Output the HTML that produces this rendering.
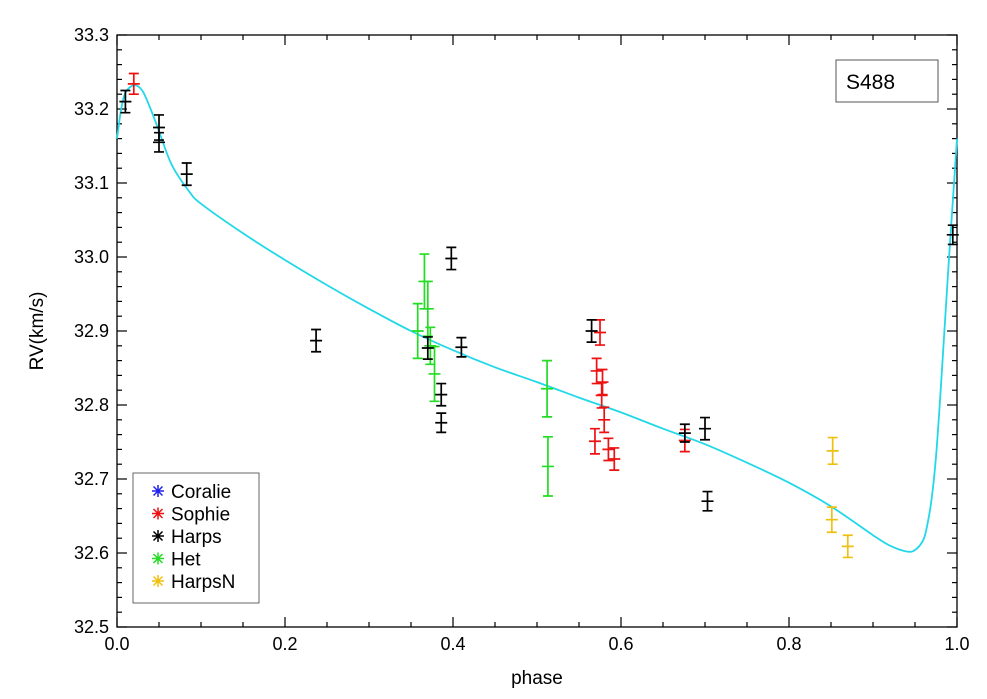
<!DOCTYPE html>
<html><head><meta charset="utf-8"><style>
html,body{margin:0;padding:0;background:#fff;}
svg{display:block;font-family:"Liberation Sans",sans-serif;}
</style></head><body>
<svg id="c" width="987" height="699" viewBox="0 0 987 699">
</svg>
<script>
const xTicks=[0.0,0.2,0.4,0.6,0.8,1.0];
const xTickLabels=["0.0","0.2","0.4","0.6","0.8","1.0"];
const yTicks=[32.5,32.6,32.7,32.8,32.9,33.0,33.1,33.2,33.3];
const yTickLabels=["32.5","32.6","32.7","32.8","32.9","33.0","33.1","33.2","33.3"];
const harpsPhase=[0.01,0.05,0.05,0.083,0.237,0.370,0.386,0.386,0.398,0.410,0.565,0.676,0.700,0.703,0.995];
const harpsRV=[33.21,33.175,33.155,33.112,32.887,32.877,32.814,32.776,32.998,32.878,32.90,32.762,32.768,32.670,33.03];
const harpsErr=[0.015,0.017,0.013,0.015,0.015,0.015,0.015,0.013,0.015,0.013,0.015,0.012,0.015,0.013,0.013];
const sophiePhase=[0.020,0.575,0.571,0.578,0.577,0.580,0.569,0.585,0.592,0.676];
const sophieRV=[33.234,32.898,32.846,32.831,32.813,32.78,32.751,32.74,32.727,32.752];
const sophieErr=[0.014,0.017,0.017,0.017,0.017,0.017,0.017,0.015,0.015,0.015];
const hetPhase=[0.358,0.366,0.370,0.373,0.378,0.512,0.513];
const hetRV=[32.90,32.967,32.930,32.88,32.842,32.822,32.717];
const hetErr=[0.037,0.037,0.037,0.025,0.037,0.038,0.04];
const harpsnPhase=[0.852,0.851,0.870];
const harpsnRV=[32.738,32.645,32.609];
const harpsnErr=[0.018,0.017,0.015];
const modelPhase=[0,0.005,0.01,0.02,0.03,0.04,0.05,0.065,0.085,0.1,0.15,0.2,0.25,0.3,0.35,0.4,0.45,0.5,0.55,0.6,0.65,0.7,0.75,0.8,0.85,0.9,0.92,0.94,0.95,0.96,0.965,0.97,0.975,0.98,0.985,0.99,0.995,1.0];
const modelRV=[33.16,33.2,33.222,33.232,33.225,33.2,33.17,33.125,33.09,33.072,33.032,32.996,32.962,32.93,32.9,32.874,32.851,32.831,32.81,32.79,32.768,32.747,32.722,32.695,32.663,32.624,32.610,32.602,32.604,32.618,32.64,32.675,32.73,32.81,32.9,32.99,33.075,33.16];

const NS="http://www.w3.org/2000/svg";
const svg=document.getElementById('c');
const L=117,R=957,T=35,B=627;
const X=p=>L+p*(R-L);
const Y=v=>T+(33.3-v)/0.8*(B-T);
function mk(tag,attrs,parent){const e=document.createElementNS(NS,tag);for(const k in attrs)e.setAttribute(k,attrs[k]);(parent||svg).appendChild(e);return e;}

const frame=mk('rect',{x:L,y:T,width:R-L,height:B-T,fill:'none',stroke:'#000','stroke-width':1.3});



for(let i=0;i<=20;i++){const p=i*0.05;const major=i%4===0;const len=major?10:5;
 const t1=mk('line',{x1:X(p),x2:X(p),y1:B,y2:B-len,stroke:'#000','stroke-width':1.2});
 
 
 const t2=mk('line',{x1:X(p),x2:X(p),y1:T,y2:T+len,stroke:'#000','stroke-width':1.2});
 
 }
xTicks.forEach((p,i)=>{const t=mk('text',{x:X(p),y:B+23,'font-size':18,'text-anchor':'middle',fill:'#000'});t.textContent=xTickLabels[i];
 
 });
for(let i=0;i<=40;i++){const v=32.5+i*0.02;const major=i%5===0;const len=major?10:5;
 const t1=mk('line',{x1:L,x2:L+len,y1:Y(v),y2:Y(v),stroke:'#000','stroke-width':1.2});
 
 
 const t2=mk('line',{x1:R,x2:R-len,y1:Y(v),y2:Y(v),stroke:'#000','stroke-width':1.2});
 
 }
yTicks.forEach((v,i)=>{const t=mk('text',{x:L-8,y:Y(v)+6,'font-size':18,'text-anchor':'end',fill:'#000'});t.textContent=yTickLabels[i];
 
 });

const xt=mk('text',{x:(L+R)/2,y:684,'font-size':19,'text-anchor':'middle',fill:'#000'});xt.textContent='phase';


const yt=mk('text',{x:0,y:0,'font-size':19,'text-anchor':'middle',fill:'#000',transform:`translate(43,${(T+B)/2}) rotate(-90)`});yt.textContent='RV(km/s)';



const pts=modelPhase.map((p,i)=>[X(p),Y(modelRV[i])]);
let d='M'+pts[0][0].toFixed(1)+','+pts[0][1].toFixed(1);
for(let i=0;i<pts.length-1;i++){
 const p0=pts[Math.max(0,i-1)],p1=pts[i],p2=pts[i+1],p3=pts[Math.min(pts.length-1,i+2)];
 const c1=[p1[0]+(p2[0]-p0[0])/6,p1[1]+(p2[1]-p0[1])/6];
 const c2=[p2[0]-(p3[0]-p1[0])/6,p2[1]-(p3[1]-p1[1])/6];
 d+=` C${c1[0].toFixed(1)},${c1[1].toFixed(1)} ${c2[0].toFixed(1)},${c2[1].toFixed(1)} ${p2[0].toFixed(1)},${p2[1].toFixed(1)}`;
}
const mp=mk('path',{d:d,fill:'none',stroke:'#22d8e8','stroke-width':1.8,'stroke-linejoin':'round'});



function series(ph,rv,er,color,name){
 const g=mk('g',{});
 
 
 ph.forEach((p,i)=>{const x=X(p),y0=Y(rv[i]+er[i]),y1=Y(rv[i]-er[i]),y=Y(rv[i]);
  const pt=mk('path',{d:`M${x},${y0}V${y1}M${x-5},${y0}H${x+5}M${x-5},${y1}H${x+5}M${x-6},${y}H${x+6}`,stroke:color,'stroke-width':1.7,fill:'none'},g);
  
  });
}
series(hetPhase,hetRV,hetErr,'#22dd22','het');
series(sophiePhase,sophieRV,sophieErr,'#ee1111','sophie');
series(harpsPhase,harpsRV,harpsErr,'#000000','harps');
series(harpsnPhase,harpsnRV,harpsnErr,'#f0c010','harpsn');

const lb=mk('rect',{x:836,y:60,width:102,height:42,fill:'#fff',stroke:'#555','stroke-width':1});


const lt=mk('text',{x:846,y:89,'font-size':21,fill:'#000'});lt.textContent='S488';



const legNames=['Coralie','Sophie','Harps','Het','HarpsN'];
const legColors=['#2222ee','#ee1111','#000000','#22dd22','#f0c010'];
const lg=mk('rect',{x:133,y:473,width:126,height:130,fill:'#fff',stroke:'#666','stroke-width':1});


legNames.forEach((n,i)=>{const cy=491+i*22.5;const cx=158;
 const s=mk('path',{d:`M${cx-6},${cy}H${cx+6}M${cx},${cy-6}V${cy+6}M${cx-4.5},${cy-4.5}L${cx+4.5},${cy+4.5}M${cx-4.5},${cy+4.5}L${cx+4.5},${cy-4.5}`,stroke:legColors[i],'stroke-width':1.5},svg);
 
 
 const t=mk('text',{x:171,y:cy+7,'font-size':19,fill:'#000'});t.textContent=n;
 
 });
</script>
</body></html>
